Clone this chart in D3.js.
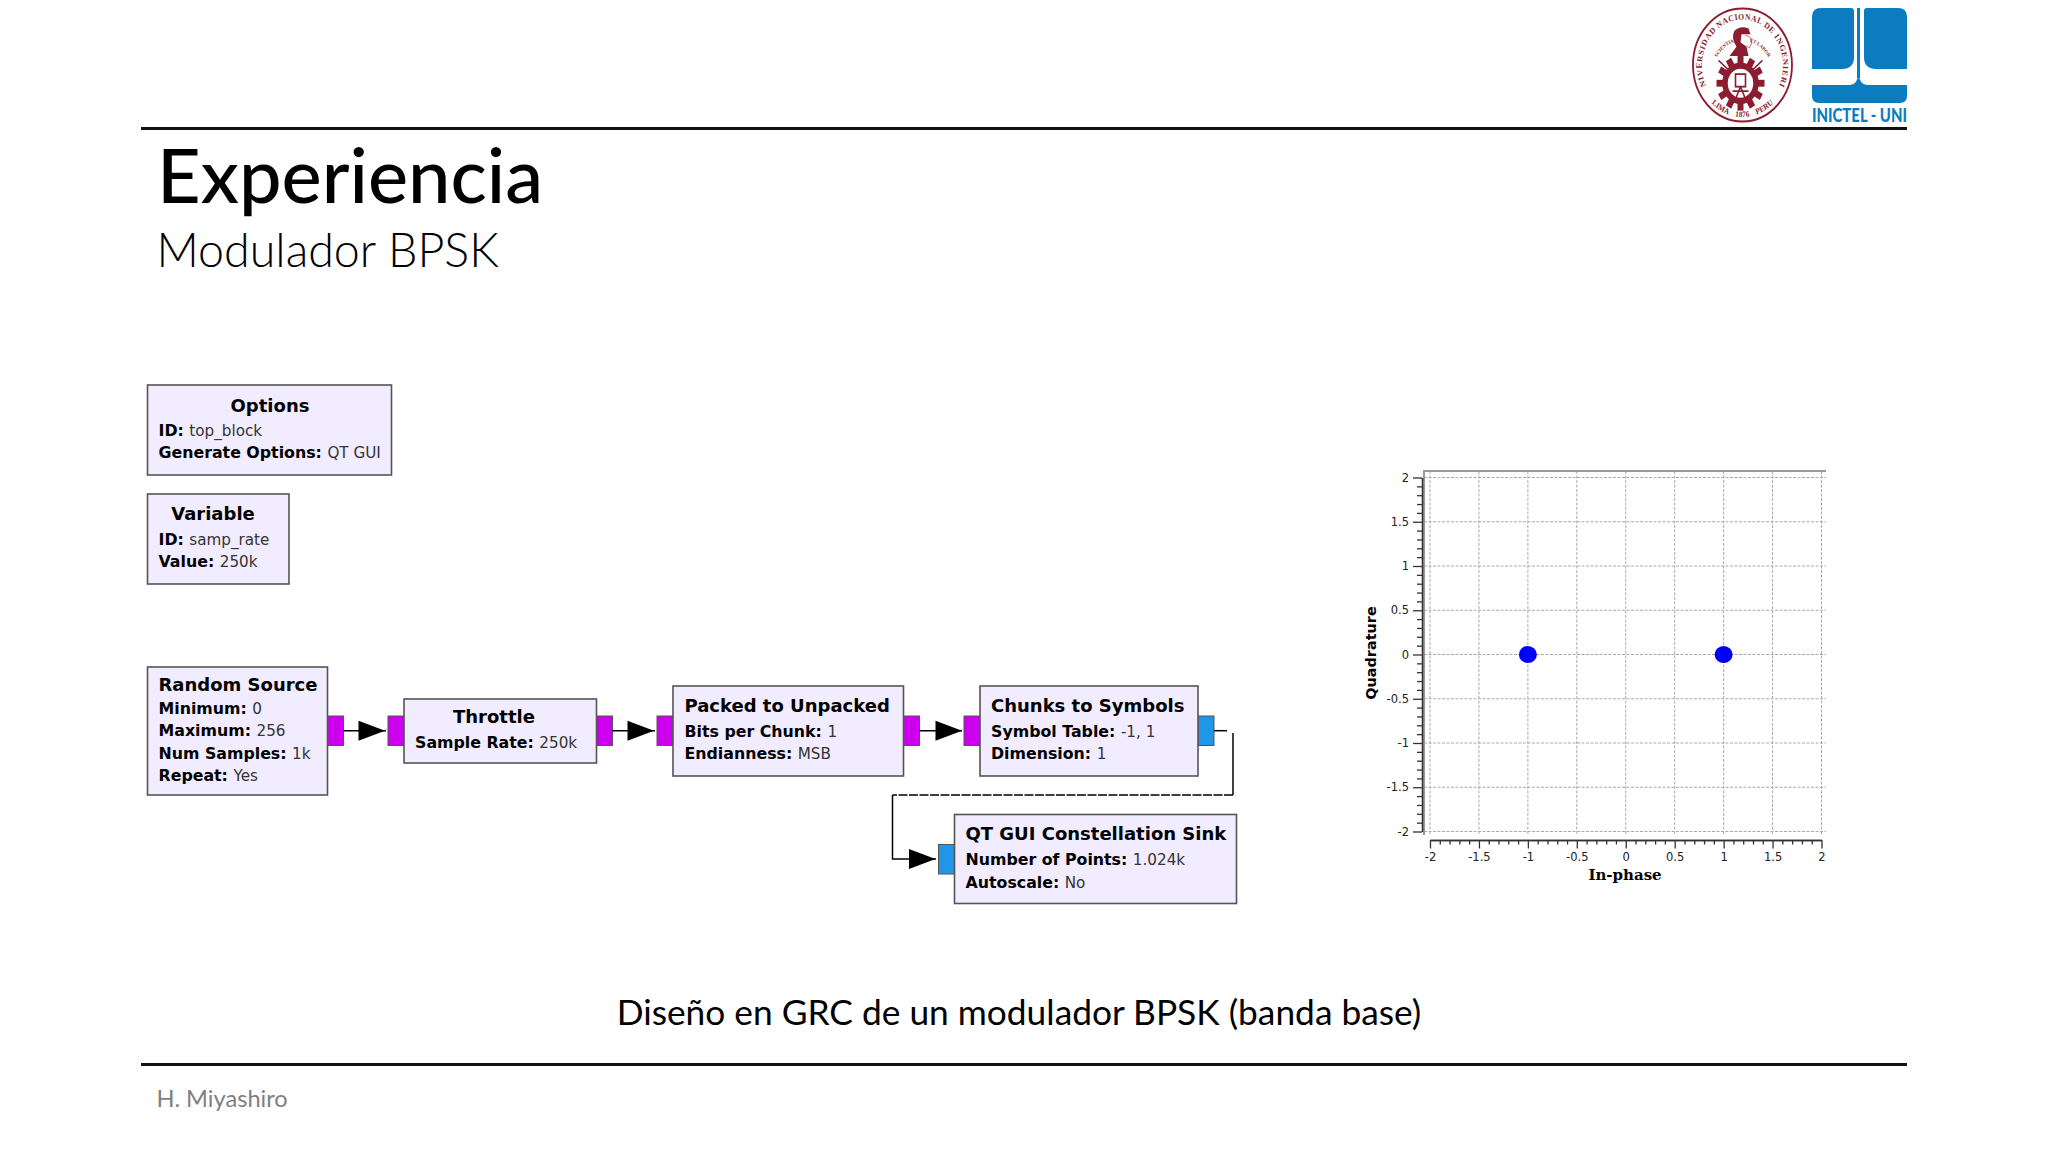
<!DOCTYPE html>
<html>
<head>
<meta charset="utf-8">
<script src="https://cdn.jsdelivr.net/npm/d3@7"></script>
<style>
    html, body { margin: 0; padding: 0; background: #fff; }
    svg { display: block; }
</style>
</head>
<body>
<div id="canvas"></div>
<script>
// constellation values
const inPhase = [-1, 1];
const quadrature = [0, 0];
const majorTicks = [-2, -1.5, -1, -0.5, 0, 0.5, 1, 1.5, 2];
const minorTicks = d3.range(-20, 21).map(d => d / 10).filter(d => !majorTicks.includes(d));

// flowgraph text
const blockTitles = ["Options", "Variable", "Random Source", "Throttle", "Packed to Unpacked", "Chunks to Symbols", "QT GUI Constellation Sink"];
const blockParams = [
    [["ID", "top_block"], ["Generate Options", "QT GUI"]],
    [["ID", "samp_rate"], ["Value", "250k"]],
    [["Minimum", "0"], ["Maximum", "256"], ["Num Samples", "1k"], ["Repeat", "Yes"]],
    [["Sample Rate", "250k"]],
    [["Bits per Chunk", "1"], ["Endianness", "MSB"]],
    [["Symbol Table", "-1, 1"], ["Dimension", "1"]],
    [["Number of Points", "1.024k"], ["Autoscale", "No"]]
];

const width = 2048;
const height = 1152;
const svg = d3.select("#canvas").append("svg").attr("width", width).attr("height", height);
const slideFont = "Lato, 'Open Sans', sans-serif";
const grcFont = "'DejaVu Sans', sans-serif";

function text(x, y, str, size, opts = {}){
    return svg.append("text")
        .attr("x", x)
        .attr("y", y)
        .attr("text-anchor", opts.anchor || "start")
        .style("font-family", opts.font || slideFont)
        .style("font-size", size + "px")
        .style("font-weight", opts.weight || 400)
        .style("fill", opts.fill || "#000")
        .text(str);
}

// slide frame
svg.append("line").attr("x1", 141).attr("x2", 1907).attr("y1", 128.5).attr("y2", 128.5).style("stroke", "#111").style("stroke-width", 3);
svg.append("line").attr("x1", 141).attr("x2", 1907).attr("y1", 1064.5).attr("y2", 1064.5).style("stroke", "#111").style("stroke-width", 3);
text(157, 203, "Experiencia", 75.8, {weight: 500});
text(156.5, 266.5, "Modulador BPSK", 46.6, {weight: 300});
text(1019, 1024.5, "Diseño en GRC de un modulador BPSK (banda base)", 35.3, {anchor: "middle"});
text(156.5, 1107, "H. Miyashiro", 23.6, {fill: "#7f7f7f"});

// blocks, in order of blockTitles
const blockBoxes = [
    {x: 147.5, y: 385, w: 244, h: 90, tx: 158.5, titleX: 270, titleY: 411.5, lineY: [436, 458]},
    {x: 147.5, y: 494, w: 141.5, h: 90, tx: 158.5, titleX: 213, titleY: 520, lineY: [544.5, 567]},
    {x: 147.5, y: 667, w: 180, h: 128, tx: 158.5, titleY: 690.5, lineY: [714, 736, 758.5, 781]},
    {x: 404, y: 699, w: 192.5, h: 64, tx: 415, titleX: 494, titleY: 723, lineY: [747.5]},
    {x: 673, y: 686, w: 230.5, h: 90, tx: 684.5, titleY: 712, lineY: [736.5, 759]},
    {x: 980, y: 686, w: 218, h: 90, tx: 991, titleY: 712, lineY: [736.5, 759]},
    {x: 954.5, y: 814.5, w: 282, h: 89, tx: 965.5, titleY: 840, lineY: [864.5, 887.5]}
];
const portW = 16;
const purple = "#cc00ee";
const blue = "#2196e8";
const portBoxes = [
    {x: 327.5, y: 716, fill: purple},
    {x: 388, y: 716, fill: purple},
    {x: 596.5, y: 716, fill: purple},
    {x: 657, y: 716, fill: purple},
    {x: 903.5, y: 716, fill: purple},
    {x: 964, y: 716, fill: purple},
    {x: 1198, y: 716, fill: blue},
    {x: 938.5, y: 844.5, fill: blue}
];

svg.selectAll(".port").data(portBoxes).join("rect")
    .attr("class", "port")
    .attr("x", d => d.x).attr("y", d => d.y)
    .attr("width", portW).attr("height", 29.5)
    .style("fill", d => d.fill)
    .style("stroke", "#555")
    .style("stroke-width", 1);

blockBoxes.forEach(function(b, i){
    svg.append("rect")
        .attr("x", b.x).attr("y", b.y)
        .attr("width", b.w).attr("height", b.h)
        .style("fill", "#f1ecff")
        .style("stroke", "#555")
        .style("stroke-width", 1.6);
    text(b.titleX || b.tx, b.titleY, blockTitles[i], 18, {font: grcFont, weight: 700, anchor: b.titleX ? "middle" : "start"});
    blockParams[i].forEach(function(p, j){
        const t = text(b.tx, b.lineY[j], null, 15.8, {font: grcFont});
        t.append("tspan").style("font-weight", 700).text(p[0] + ": ");
        t.append("tspan").style("fill", "#333").style("font-size", "15.2px").text(p[1]);
    });
});

// connections
const connections = [
    [[343.5, 730.7], [386, 730.7]],
    [[612.5, 730.7], [655, 730.7]],
    [[919.5, 730.7], [962, 730.7]]
];
const wire = d3.line();
connections.forEach(function(c){
    svg.append("path").attr("d", wire(c)).style("stroke", "#000").style("stroke-width", 1.5).style("fill", "none");
});
svg.append("path").attr("d", wire([[1214, 730.7], [1227, 730.7]])).style("stroke", "#000").style("stroke-width", 1.5).style("fill", "none");
svg.append("path").attr("d", wire([[1233, 733], [1233, 795]])).style("stroke", "#000").style("stroke-width", 1.5).style("fill", "none");
svg.append("path").attr("d", wire([[1233, 795], [892.5, 795]])).style("stroke", "#000").style("stroke-width", 1.5).style("stroke-dasharray", "9,1.5").style("fill", "none");
svg.append("path").attr("d", wire([[892.5, 795], [892.5, 859], [936, 859]])).style("stroke", "#000").style("stroke-width", 1.5).style("fill", "none");
[[358.5, 730.7], [627.5, 730.7], [935.5, 730.7], [909, 859]].forEach(function(a){
    svg.append("path")
        .attr("d", wire([[a[0], a[1] - 10], [a[0] + 26.5, a[1]], [a[0], a[1] + 10]]) + "Z")
        .style("fill", "#000");
});

// constellation plot
const x = d3.scaleLinear().domain([-2, 2]).range([1430, 1821.5]);
const y = d3.scaleLinear().domain([-2, 2]).range([831.5, 477.5]);
const plotTop = 471, plotBottom = 835, plotLeft = 1424, plotRight = 1826;
const fmt = d => String(d);

svg.append("g").selectAll("line").data(majorTicks).join("line")
    .attr("x1", d => x(d)).attr("x2", d => x(d)).attr("y1", plotTop).attr("y2", plotBottom)
    .style("stroke", "#aaa").style("stroke-dasharray", "3,1.5");
svg.append("g").selectAll("line").data(majorTicks).join("line")
    .attr("x1", plotLeft).attr("x2", plotRight).attr("y1", d => y(d)).attr("y2", d => y(d))
    .style("stroke", "#aaa").style("stroke-dasharray", "3,1.5");
svg.append("path")
    .attr("d", wire([[plotLeft, plotBottom], [plotLeft, plotTop], [plotRight, plotTop]]))
    .style("fill", "none").style("stroke", "#999").style("stroke-width", 2);

function drawAxis(axis, tx, ty, ticks, size, labels){
    const g = svg.append("g")
        .attr("transform", `translate(${tx},${ty})`)
        .call(axis.tickValues(ticks).tickSize(size).tickSizeOuter(0).tickFormat(labels ? fmt : ""));
    g.selectAll("path,line").style("stroke", "#333").style("stroke-width", 1.3);
    g.selectAll("text").style("font-family", grcFont).style("font-size", "11.5px").style("fill", "#222");
    return g;
}
drawAxis(d3.axisBottom(x), 0, 840, majorTicks, 8.5, true).selectAll("text").attr("y", 13);
drawAxis(d3.axisBottom(x), 0, 840, minorTicks, 4.5, false);
drawAxis(d3.axisLeft(y), 1422, 0, majorTicks, 9, true).selectAll("text").attr("x", -13);
drawAxis(d3.axisLeft(y), 1422, 0, minorTicks, 5, false);

text(1625, 880, "In-phase", 15, {font: "'DejaVu Serif', serif", weight: 700, anchor: "middle"});
text(0, 0, "Quadrature", 14.4, {font: grcFont, weight: 700, anchor: "middle"})
    .attr("transform", "translate(1376,653) rotate(-90)");

svg.append("g").selectAll("ellipse").data(inPhase).join("ellipse")
    .attr("cx", d => x(d))
    .attr("cy", (d, i) => y(quadrature[i]))
    .attr("rx", 9).attr("ry", 8.6)
    .style("fill", "#0000ff");

// INICTEL logo
const inictelBlue = "#0c7cc0";
const logo = svg.append("g").style("fill", inictelBlue);
logo.append("path").attr("d", "M1812,17 Q1812,8 1821,8 H1851 Q1854,8 1854,11 V57 Q1854,69 1842,69 H1812 Z");
logo.append("path").attr("d", "M1864,11 Q1864,8 1867,8 H1898 Q1907,8 1907,17 V69 H1876 Q1864,69 1864,57 Z");
logo.append("path").attr("d", "M1812,85 H1850 Q1857,85 1858.5,74 Q1860,85 1867,85 H1907 V96 Q1907,103 1900,103 H1819 Q1812,103 1812,96 Z");
logo.append("rect").attr("x", 1857).attr("y", 8).attr("width", 3).attr("height", 70);
text(1812, 122, "INICTEL - UNI", 18, {weight: 900, fill: inictelBlue}).attr("textLength", 95).attr("lengthAdjust", "spacingAndGlyphs");

// university seal
const sealRed = "#8c1c30";
const seal = svg.append("g").attr("transform", "translate(1742.5,65) scale(1,1.14)");
seal.append("circle").attr("r", 49.5).style("fill", "#fff").style("stroke", sealRed).style("stroke-width", 1.8);
const defs = svg.append("defs");
defs.append("path").attr("id", "sealTop").attr("d", "M-35,21 A40.5,40.5 0 1 1 35,21");
defs.append("path").attr("id", "sealBottom").attr("d", "M-36,28 A45.5,45.5 0 0 0 36,28");
defs.append("path").attr("id", "sealInner").attr("d", "M-28,-2 A30,30 0 0 1 28,-2");
[["sealTop", "UNIVERSIDAD NACIONAL DE INGENIERIA", 7.6, 175], ["sealBottom", "LIMA    1876    PERU", 7.2, 0], ["sealInner", "SCIENTIA              ET LABOR", 4.6, 0]].forEach(function(s){
    const tp = seal.append("text")
        .attr("text-anchor", "middle")
        .style("font-family", "'Liberation Serif', serif")
        .style("font-weight", 700)
        .style("font-size", s[2] + "px")
        .style("white-space", "pre")
        .style("fill", sealRed)
        .append("textPath")
        .attr("href", "#" + s[0])
        .attr("startOffset", "50%")
        .text(s[1]);
    if(s[3]) tp.attr("textLength", s[3]);
});
// gear
const gearTeeth = d3.range(12).map(d => d * 30);
seal.append("g").selectAll("rect").data(gearTeeth).join("rect")
    .attr("x", -3).attr("y", -24).attr("width", 6).attr("height", 7)
    .attr("transform", d => `translate(-2,16) rotate(${d})`)
    .style("fill", sealRed);
seal.append("circle").attr("cx", -2).attr("cy", 16).attr("r", 15.5).style("fill", "none").style("stroke", sealRed).style("stroke-width", 5.5);
seal.append("rect").attr("x", -7).attr("y", 8).attr("width", 10).attr("height", 11).style("fill", "none").style("stroke", sealRed).style("stroke-width", 1.6);
seal.append("path").attr("d", "M-10,23 L6,23 M-2,19 L-7,30 M-2,19 L3,30").style("stroke", sealRed).style("stroke-width", 1.5).style("fill", "none");
// compass arms over the gear
seal.append("path").attr("d", "M-24,-4 L-12,6 M20,-4 L8,6").style("stroke", sealRed).style("stroke-width", 1.5).style("fill", "none");
// bust
seal.append("path").attr("d", "M-13,-8 L-6,-16 Q-12,-24 -8,-30 Q-2,-35 6,-32 L8,-27 L-1,-27 L-2,-20 L4,-16 L6,-8 Z").style("fill", sealRed);
seal.append("path").attr("d", "M3,-26 Q10,-25 9,-19 L7,-15 L4,-17").style("fill", "none").style("stroke", sealRed).style("stroke-width", 0.6);
</script>
</body>
</html>
